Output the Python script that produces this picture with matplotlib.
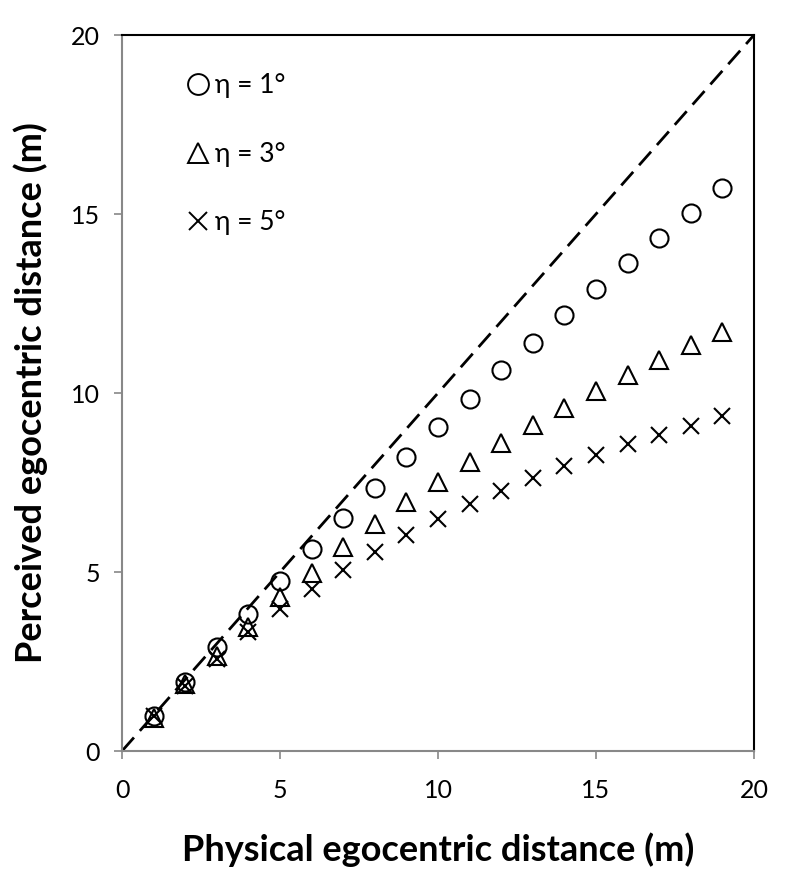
import matplotlib
matplotlib.use("Agg")
import matplotlib.pyplot as plt
from matplotlib.lines import Line2D

plt.rcParams['font.family'] = ['Lato', 'DejaVu Sans']

x = list(range(1, 20))
eta1 = [0.98, 1.93, 2.90, 3.83, 4.74, 5.64, 6.50, 7.36, 8.20, 9.04, 9.83, 10.63,
        11.40, 12.17, 12.90, 13.62, 14.33, 15.04, 15.74]
eta3 = [0.93, 1.87, 2.66, 3.46, 4.30, 4.97, 5.70, 6.33, 6.96, 7.52, 8.08, 8.60,
        9.11, 9.58, 10.07, 10.51, 10.93, 11.34, 11.71]
eta5 = [0.98, 1.82, 2.57, 3.32, 3.97, 4.53, 5.07, 5.56, 6.03, 6.47, 6.90, 7.26,
        7.64, 7.96, 8.27, 8.57, 8.83, 9.09, 9.35]
labels = ['η = 1°', 'η = 3°', 'η = 5°']
xlabel = 'Physical egocentric distance (m)'
ylabel = 'Perceived egocentric distance (m)'

fig = plt.figure(figsize=(8, 8.91), dpi=100)
ax = fig.add_axes([0.1525, 0.1571, 0.79, 0.8036])

ax.plot([0, 20], [0, 20], color='black', lw=2.0, dashes=(6.5, 3.2), zorder=1)
mk = dict(linestyle='none', markerfacecolor='none', markeredgecolor='black',
          markeredgewidth=1.5, zorder=3)
ax.plot(x, eta1, marker='o', markersize=13, **mk)
ax.plot(x, eta3, marker='^', markersize=13, **mk)
ax.plot(x, eta5, marker='x', markersize=11, **mk)

ax.set_xlim(0, 20)
ax.set_ylim(0, 20)
ax.set_xticks([0, 5, 10, 15, 20])
ax.set_yticks([0, 5, 10, 15, 20])
ax.tick_params(axis='both', direction='out', length=6, width=1.2, color='#888888',
               labelsize=18)
ax.tick_params(axis='x', pad=14)
ax.tick_params(axis='y', pad=10)
for s in ['left', 'bottom']:
    ax.spines[s].set_color('#888888')
    ax.spines[s].set_linewidth(1.5)
for s in ['top', 'right']:
    ax.spines[s].set_color('black')
    ax.spines[s].set_linewidth(1.5)

ax.set_xlabel(xlabel, fontsize=26, fontweight='bold', labelpad=22)
ax.set_ylabel(ylabel, fontsize=26, fontweight='bold', labelpad=16)

lmk = dict(linestyle='none', markerfacecolor='none', markeredgecolor='black',
           markeredgewidth=1.4)
handles = [
    Line2D([], [], marker='o', markersize=15, **lmk),
    Line2D([], [], marker='^', markersize=15, **lmk),
    Line2D([], [], marker='x', markersize=13, **lmk),
]
ax.legend(handles, labels, loc='upper left', bbox_to_anchor=(0.083, 0.965),
          frameon=False, fontsize=19, handlelength=0.8, handletextpad=0.25,
          labelspacing=1.65, borderpad=0)

fig.savefig('out.png', dpi=100)
